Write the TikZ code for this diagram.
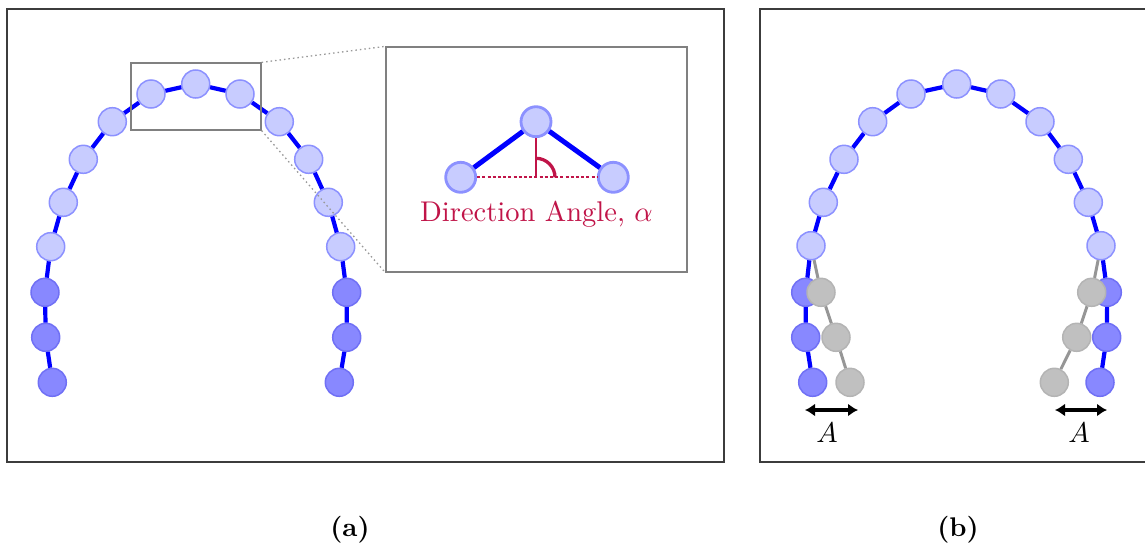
\RequirePackage{fix-cm}
\documentclass[tikz,border=0pt]{standalone}
\usetikzlibrary{arrows.meta}
\definecolor{lightfill}{RGB}{200,204,255}
\definecolor{lightbord}{RGB}{140,145,255}
\definecolor{darkfill}{RGB}{136,136,255}
\definecolor{darkbord}{RGB}{112,112,245}
\definecolor{chain}{RGB}{0,0,255}
\definecolor{angred}{RGB}{192,20,72}
\definecolor{framec}{RGB}{60,60,60}
\definecolor{gfill}{RGB}{192,192,192}
\definecolor{gbord}{RGB}{180,180,180}
\definecolor{gedge}{RGB}{150,150,150}
\tikzset{
  lt/.style={circle,minimum size=28pt,inner sep=0pt,fill=lightfill,draw=lightbord,line width=1.5pt},
  dk/.style={lt,fill=darkfill,draw=darkbord},
  gr/.style={lt,fill=gfill,draw=gbord},
  ilt/.style={lt,minimum size=30pt,line width=2.8pt},
  link/.style={draw=chain,line width=4.2pt},
  ilink/.style={draw=chain,line width=5pt},
  glink/.style={draw=gedge,line width=3pt},
  panel/.style={draw=framec,line width=1.8pt,inner sep=0pt},
  zoombox/.style={draw=gray,line width=1.3pt,inner sep=0pt},
  guide/.style={draw=gray!80,line width=1.3pt,dash pattern=on 1.5pt off 3pt},
  dimarrow/.style={draw=black,line width=3.2pt,{Latex[length=10pt,width=13pt]}-{Latex[length=10pt,width=13pt]}},
  caption/.style={font=\normalsize\bfseries,scale=2.7},
  biglab/.style={font=\normalsize,scale=2.85},
}
\begin{document}
\begin{tikzpicture}[x=1pt,y=-1pt]
\clip (0,0) rectangle (1145,544);
% panels
\node[panel,minimum width=717pt,minimum height=453pt] (pa) at (365.5,235.5) {};
\node[panel,minimum width=420pt,minimum height=453pt] (pb) at (970,235.5) {};
% ---------- panel (a) chain
\node[lt] (a0) at (195.7,84) {};
\node[lt] (aL1) at (151,94) {};
\node[lt] (aL2) at (112.3,121.7) {};
\node[lt] (aL3) at (83.3,159.3) {};
\node[lt] (aL4) at (63.3,202.3) {};
\node[lt] (aL5) at (50.7,246.7) {};
\node[dk] (aL6) at (45,292.3) {};
\node[dk] (aL7) at (45.7,337.3) {};
\node[dk] (aL8) at (52.3,382.3) {};
\node[lt] (aR1) at (240,94) {};
\node[lt] (aR2) at (279.3,121.7) {};
\node[lt] (aR3) at (308.7,159.3) {};
\node[lt] (aR4) at (328.3,202.3) {};
\node[lt] (aR5) at (340.7,246.7) {};
\node[dk] (aR6) at (346.7,292.3) {};
\node[dk] (aR7) at (346.7,337.3) {};
\node[dk] (aR8) at (339.3,382.3) {};
\path[link] (aL8)--(aL7)--(aL6)--(aL5)--(aL4)--(aL3)--(aL2)--(aL1)--(a0)--(aR1)--(aR2)--(aR3)--(aR4)--(aR5)--(aR6)--(aR7)--(aR8);
% zoom box and inset
\node[zoombox,minimum width=130pt,minimum height=67pt] (zr) at (196,96.5) {};
\node[zoombox,minimum width=301pt,minimum height=225pt] (inset) at (536.5,159.5) {};
\path[guide] (zr.north east) -- (inset.north west);
\path[guide] (zr.south east) -- (inset.south west);
\node[ilt] (i0) at (536,121.7) {};
\node[ilt] (iL) at (460.7,177.3) {};
\node[ilt] (iR) at (613.3,177.3) {};
\path[ilink] (iL) -- (i0) -- (iR);
\coordinate (ac) at (i0 |- iL);
\draw[angred,line width=1.8pt,dash pattern=on 3pt off 2.2pt] (iL) -- (iR);
\draw[angred,line width=1.4pt] (i0) -- (ac);
\draw[angred,line width=3.3pt] ([yshift=19pt]ac) arc[start angle=90,end angle=0,radius=19pt];
\node[biglab,text=angred] (dirlab) at (536.5,214) {Direction Angle, $\alpha$};
% ---------- panel (b) chain
\node[lt] (b0) at (956.7,84) {};
\node[lt] (bL1) at (911,94) {};
\node[lt] (bL2) at (872.7,121.7) {};
\node[lt] (bL3) at (844,159.3) {};
\node[lt] (bL4) at (823.3,202.3) {};
\node[lt] (bL5) at (811,245.7) {};
\node[dk] (bL6) at (805.7,292.3) {};
\node[dk] (bL7) at (805.7,337.3) {};
\node[dk] (bL8) at (812.7,382.3) {};
\node[lt] (bR1) at (1000.7,94) {};
\node[lt] (bR2) at (1040,121.7) {};
\node[lt] (bR3) at (1068.3,159.3) {};
\node[lt] (bR4) at (1088.3,202.3) {};
\node[lt] (bR5) at (1101,245.7) {};
\node[dk] (bR6) at (1107.3,292.3) {};
\node[dk] (bR7) at (1106.7,337.3) {};
\node[dk] (bR8) at (1100,382.3) {};
\path[link] (bL8)--(bL7)--(bL6)--(bL5)--(bL4)--(bL3)--(bL2)--(bL1)--(b0)--(bR1)--(bR2)--(bR3)--(bR4)--(bR5)--(bR6)--(bR7)--(bR8);
% gray displaced tails
\node[gr] (gL1) at (821,292.3) {};
\node[gr] (gL2) at (836,337.3) {};
\node[gr] (gL3) at (850,382.3) {};
\node[gr] (gR1) at (1091.7,292.3) {};
\node[gr] (gR2) at (1076.7,337.3) {};
\node[gr] (gR3) at (1054.3,382.3) {};
\path[glink] (bL5)--(gL1)--(gL2)--(gL3);
\path[glink] (bR5)--(gR1)--(gR2)--(gR3);
% amplitude arrows
\coordinate (al1) at (805,410);
\coordinate (al2) at (858,410);
\coordinate (ar1) at (1055,410);
\coordinate (ar2) at (1107,410);
\path[dimarrow] (al1) -- (al2);
\path[dimarrow] (ar1) -- (ar2);
\node[biglab] (AL) at (827,433) {$A$};
\node[biglab] (AR) at (1079,433) {$A$};
% captions
\node[caption] (capa) at (350,530) {(a)};
\node[caption] (capb) at (958,530) {(b)};
\end{tikzpicture}
\end{document}
